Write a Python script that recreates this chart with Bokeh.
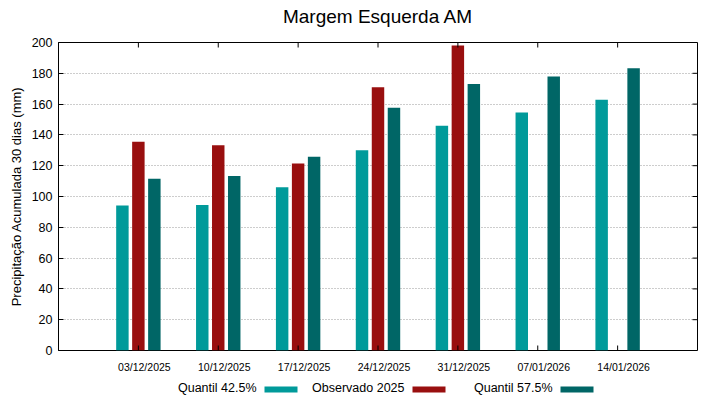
from bokeh.plotting import figure
from bokeh.models import Range1d, FixedTicker, LinearAxis
from bokeh.layouts import column
from bokeh.embed import file_html
from bokeh.resources import INLINE
from bokeh.core.properties import value

# ---- data ----
dates = ["03/12/2025", "10/12/2025", "17/12/2025", "24/12/2025",
         "31/12/2025", "07/01/2026", "14/01/2026"]
q425 = [94.2, 94.5, 106.0, 130.0, 146.0, 154.5, 162.8]
obs = [135.5, 133.2, 121.4, 171.0, 198.0, None, None]
q575 = [111.5, 113.3, 125.8, 157.6, 173.0, 178.0, 183.3]
y_ticks = list(range(0, 201, 20))
series_names = ["Quantil 42.5%", "Observado 2025", "Quantil 57.5%"]
colors = ["#009A9A", "#990F0F", "#006666"]
title_text = "Margem Esquerda AM"

FONT = "Liberation Sans"
idx = list(range(len(dates)))
X0, X1 = -1, len(dates)
Y0, Y1 = 0, 200
FW, FH = 639, 308
LEFT, RIGHT = 58, 14
TH = 30          # title strip height
TOP = 42         # page y of frame top
TICK = 5  # px
LABEL_SHIFT = 6  # px, tick labels sit slightly right of their ticks

# ---- title strip ----
tt = figure(frame_width=FW, frame_height=TH, output_backend="svg",
            toolbar_location=None, x_range=Range1d(LEFT, LEFT + FW),
            y_range=Range1d(0, TH), min_border=0,
            min_border_left=LEFT, min_border_right=RIGHT,
            x_axis_location=None, y_axis_location=None)
tt.outline_line_color = None
tt.grid.visible = False
tt.text(x=[LEFT + FW / 2], y=[TH - 16], text=[title_text],
        text_align="center", text_baseline="middle",
        text_font=value(FONT), text_font_size="19px", text_color="black")

p = figure(frame_width=FW, frame_height=FH, output_backend="svg",
           toolbar_location=None, x_range=Range1d(X0, X1),
           y_range=Range1d(Y0, Y1), x_axis_location=None,
           min_border_left=LEFT, min_border_right=RIGHT,
           min_border_top=TOP - TH, min_border_bottom=25)

offsets = [-0.2, 0.0, 0.2]
for vals, off, col in zip([q425, obs, q575], offsets, colors):
    xs = [i + off for i, v in zip(idx, vals) if v is not None]
    tops = [v for v in vals if v is not None]
    p.vbar(x=xs, top=tops, width=0.156, bottom=0, fill_color=col,
           line_color=None)

# inward ticks on top, bottom and right edges (gnuplot style)
ty = TICK * (Y1 - Y0) / FH
tx = TICK * (X1 - X0) / FW
n = len(idx)
p.segment(x0=idx, y0=[Y1] * n, x1=idx, y1=[Y1 - ty] * n,
          line_color="black", line_width=1)
p.segment(x0=idx, y0=[Y0] * n, x1=idx, y1=[Y0 + ty] * n,
          line_color="black", line_width=1)
p.segment(x0=[X1] * len(y_ticks), y0=y_ticks, x1=[X1 - tx] * len(y_ticks),
          y1=y_ticks, line_color="black", line_width=1)

# bottom axis on a slightly shifted range so labels sit right of ticks
d = LABEL_SHIFT * (X1 - X0) / FW
p.extra_x_ranges = {"lab": Range1d(X0 - d, X1 - d)}
xa = LinearAxis(x_range_name="lab", ticker=FixedTicker(ticks=idx))
xa.major_label_overrides = {i: dt for i, dt in zip(idx, dates)}
xa.major_label_text_font = FONT
xa.major_label_text_font_size = "10.5px"
xa.major_label_text_color = "black"
xa.major_tick_line_color = None
xa.major_tick_in = 0
xa.major_tick_out = 0
xa.minor_tick_line_color = None
xa.axis_line_color = None
xa.major_label_standoff = 10
p.add_layout(xa, "below")

p.outline_line_color = "black"
p.outline_line_alpha = 1.0
p.xgrid.visible = False
p.ygrid.ticker = FixedTicker(ticks=y_ticks)
p.ygrid.grid_line_color = "#9a9a9a"
p.ygrid.grid_line_dash = "1 2"

ya = p.yaxis[0]
ya.ticker = FixedTicker(ticks=y_ticks)
ya.major_label_text_font = FONT
ya.major_label_text_font_size = "12.5px"
ya.major_label_text_color = "black"
ya.major_tick_in = TICK
ya.major_tick_out = 0
ya.minor_tick_line_color = None
ya.major_label_standoff = 6
ya.axis_label = "Precipitação Acumulada 30 dias (mm)"
ya.axis_label_text_font = FONT
ya.axis_label_text_font_size = "13px"
ya.axis_label_text_font_style = "normal"
ya.axis_label_text_color = "black"
ya.axis_label_standoff = 5
ya.axis_line_color = "black"
ya.major_tick_line_color = "black"

# ---- legend strip (x in page pixels) ----
LH = 20
leg = figure(frame_width=FW, frame_height=LH, output_backend="svg",
             toolbar_location=None, x_range=Range1d(LEFT, LEFT + FW),
             y_range=Range1d(0, LH), min_border=0,
             min_border_left=LEFT, min_border_right=RIGHT,
             x_axis_location=None, y_axis_location=None)
leg.outline_line_color = None
leg.grid.visible = False
text_ends = [256, 404, 552]
leg.text(x=text_ends, y=[LH - 12] * 3, text=series_names, text_align="right",
         text_baseline="middle", text_font=value(FONT),
         text_font_size="12.5px", text_color="black")
leg.rect(x=[e + 8 + 16.5 for e in text_ends], y=[LH - 14] * 3, width=33,
         height=6, fill_color=colors, line_color=None)

layout = column(tt, p, leg, spacing=0)
open("out.html", "w").write(file_html(layout, INLINE))
